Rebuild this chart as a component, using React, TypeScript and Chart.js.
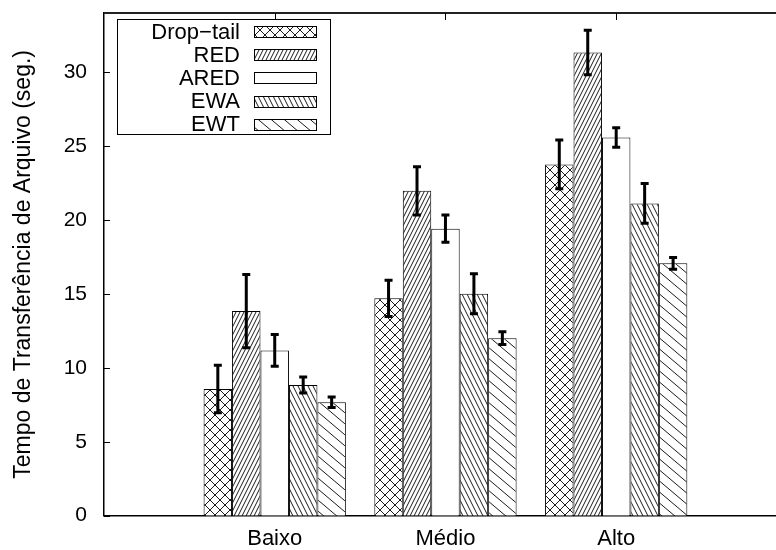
import React, { useEffect, useRef } from 'react';
import { Chart, registerables } from 'chart.js';

Chart.register(...registerables);

// ---- data ----
const categories = ['Baixo', 'Médio', 'Alto'];
const seriesNames = ['Drop−tail', 'RED', 'ARED', 'EWA', 'EWT'];
const dropTail = [8.57, 14.7, 23.76];
const dropTailErr = [1.6, 1.22, 1.65];
const red = [13.84, 21.97, 31.33];
const redErr = [2.48, 1.63, 1.5];
const ared = [11.18, 19.41, 25.58];
const aredErr = [1.07, 0.92, 0.66];
const ewa = [8.84, 15.01, 21.12];
const ewaErr = [0.54, 1.35, 1.34];
const ewt = [7.67, 12.01, 17.07];
const ewtErr = [0.36, 0.43, 0.4];
const yTicks = [0, 5, 10, 15, 20, 25, 30];

const seriesValues = [dropTail, red, ared, ewa, ewt];
const seriesErrors = [dropTailErr, redErr, aredErr, ewaErr, ewtErr];

const FONT = '"Liberation Sans", Arial, Helvetica, sans-serif';

type Dir = '/' | '\\';

function makePattern(w: number, h: number, dirs: Dir[]): CanvasPattern | string {
  const c = document.createElement('canvas');
  c.width = w;
  c.height = h;
  const g = c.getContext('2d');
  if (!g) return '#fff';
  g.fillStyle = '#fff';
  g.fillRect(0, 0, w, h);
  g.strokeStyle = '#000';
  g.lineWidth = 0.9;
  g.beginPath();
  for (const d of dirs) {
    for (let k = -2; k <= 2; k++) {
      if (d === '/') {
        g.moveTo(k * w - w, 2 * h);
        g.lineTo(k * w + 2 * w, -h);
      } else {
        g.moveTo(k * w - w, -h);
        g.lineTo(k * w + 2 * w, 2 * h);
      }
    }
  }
  g.stroke();
  const p = g.createPattern(c, 'repeat');
  return p || '#fff';
}

const decorPlugin = {
  id: 'decor',
  afterDatasetsDraw(chart: any) {
    const ctx = chart.ctx;
    const yScale = chart.scales.y;
    ctx.save();
    ctx.strokeStyle = '#000';
    ctx.lineWidth = 3;
    ctx.lineCap = 'butt';
    chart.data.datasets.forEach((ds: any, di: number) => {
      const meta = chart.getDatasetMeta(di);
      const errs = seriesErrors[di];
      meta.data.forEach((el: any, i: number) => {
        const v = seriesValues[di][i];
        const e = errs[i];
        const x = el.x;
        const yt = yScale.getPixelForValue(v + e);
        const yb = yScale.getPixelForValue(v - e);
        ctx.beginPath();
        ctx.moveTo(x, yt);
        ctx.lineTo(x, yb);
        ctx.moveTo(x - 4, yt);
        ctx.lineTo(x + 4, yt);
        ctx.moveTo(x - 4, yb);
        ctx.lineTo(x + 4, yb);
        ctx.stroke();
      });
    });
    ctx.restore();
  },
  afterDraw(chart: any) {
    const ctx = chart.ctx;
    const area = chart.chartArea;
    const xScale = chart.scales.x;
    const yScale = chart.scales.y;
    ctx.save();
    // top border
    ctx.strokeStyle = '#222';
    ctx.lineWidth = 2;
    ctx.beginPath();
    ctx.moveTo(area.left, area.top);
    ctx.lineTo(area.right, area.top);
    ctx.stroke();
    // inward ticks
    ctx.strokeStyle = '#000';
    ctx.lineWidth = 1;
    ctx.beginPath();
    yTicks.forEach((t) => {
      const y = Math.round(yScale.getPixelForValue(t)) + 0.5;
      ctx.moveTo(area.left, y);
      ctx.lineTo(area.left + 6, y);
    });
    categories.forEach((_, i) => {
      const x = Math.round(xScale.getPixelForValue(i)) + 0.5;
      ctx.moveTo(x, area.top);
      ctx.lineTo(x, area.top + 7);
    });
    ctx.stroke();

    // legend
    const bx = 117.5, by = 19.5, bw = 213, bh = 115;
    ctx.fillStyle = '#fff';
    ctx.fillRect(bx, by, bw, bh);
    ctx.strokeStyle = '#000';
    ctx.lineWidth = 1;
    ctx.strokeRect(bx, by, bw, bh);
    ctx.font = `22px ${FONT}`;
    ctx.textAlign = 'right';
    ctx.textBaseline = 'middle';
    chart.data.datasets.forEach((ds: any, i: number) => {
      const cy = 31.5 + i * 23.2;
      ctx.fillStyle = '#000';
      ctx.fillText(ds.label, 240, cy + 1);
      ctx.fillStyle = ds.backgroundColor;
      const sy = Math.round(cy - 5.5) + 0.5;
      ctx.fillRect(254.5, sy, 62, 11);
      ctx.strokeStyle = '#000';
      ctx.strokeRect(254.5, sy, 62, 11);
    });
    ctx.restore();
  },
};

export default function App() {
  const ref = useRef<HTMLCanvasElement | null>(null);
  useEffect(() => {
    if (!ref.current) return;
    const patterns = [
      makePattern(10, 10, ['/', '\\']),
      makePattern(4, 8, ['/']),
      '#ffffff',
      makePattern(5, 10, ['\\']),
      makePattern(13, 11, ['\\']),
    ];
    const chart = new Chart(ref.current, {
      type: 'bar',
      data: {
        datasets: seriesNames.map((name, si) => ({
          label: name,
          data: seriesValues[si].map((v, i) => ({ x: i, y: v })),
          backgroundColor: patterns[si] as any,
          borderColor: '#000',
          borderWidth: 1,
          categoryPercentage: 5 / 6,
          barPercentage: 1,
        })),
      },
      options: {
        responsive: false,
        animation: false,
        layout: { padding: { top: 13, left: 0, right: 0, bottom: 0 } },
        plugins: {
          legend: { display: false },
          tooltip: { enabled: false },
        },
        scales: {
          x: {
            type: 'linear',
            min: -1,
            max: 2.936,
            offset: false,
            grid: { display: false, drawTicks: false, offset: false },
            border: { display: true, color: '#000', width: 1.5 },
            afterBuildTicks: (scale: any) => {
              scale.ticks = categories.map((_, i) => ({ value: i }));
            },
            afterFit: (scale: any) => {
              scale.height = 34.3;
              scale.paddingLeft = 0;
              scale.paddingRight = 0;
            },
            ticks: {
              padding: 10,
              color: '#000',
              font: { family: FONT, size: 22 },
              autoSkip: false,
              maxRotation: 0,
              callback: (v: any) => categories[v as number] ?? '',
            },
          },
          y: {
            type: 'linear',
            min: 0,
            max: 34,
            grid: { display: false, drawTicks: false },
            border: { display: true, color: '#000', width: 1.5 },
            afterBuildTicks: (scale: any) => {
              scale.ticks = yTicks.map((v) => ({ value: v }));
            },
            afterFit: (scale: any) => {
              scale.width = 104;
              scale.paddingTop = 0;
              scale.paddingBottom = 0;
            },
            ticks: {
              padding: 17,
              color: '#000',
              font: { family: FONT, size: 21 },
            },
            title: {
              display: true,
              text: 'Tempo de Transferência de Arquivo (seg.)',
              color: '#000',
              font: { family: FONT, size: 23 },
              padding: { top: 10, bottom: 0 },
            },
          },
        },
      },
      plugins: [decorPlugin],
    });
    return () => chart.destroy();
  }, []);
  return (
    <div style={{ position: 'fixed', left: 0, top: 0, width: 776, height: 550, background: '#fff' }}>
      <canvas ref={ref} width={776} height={550} style={{ width: 776, height: 550, display: 'block' }} />
    </div>
  );
}
